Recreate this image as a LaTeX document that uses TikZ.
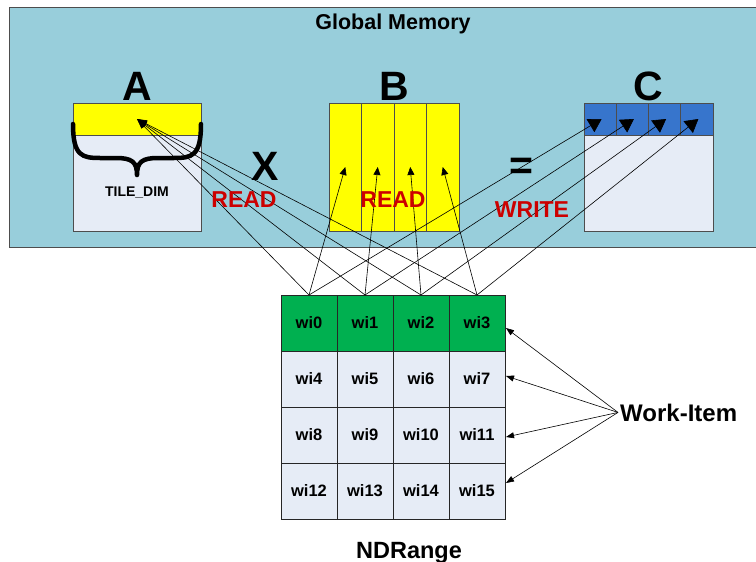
\documentclass[tikz,border=0pt]{standalone}
\usepackage{fontspec}
\setmainfont{Liberation Sans}
\usetikzlibrary{arrows.meta,calc}

\definecolor{memblue}{HTML}{98CEDB}
\definecolor{paleblue}{HTML}{E6ECF6}
\definecolor{tileyellow}{HTML}{FFFF00}
\definecolor{outblue}{HTML}{3775CC}
\definecolor{wigreen}{HTML}{00B050}
\definecolor{opred}{HTML}{CC0000}
\definecolor{edgegray}{HTML}{4D4D4D}

\begin{document}
\begin{tikzpicture}[x=1pt,y=-1pt,
  mat/.style={draw=edgegray, line width=1pt, inner sep=0pt, outer sep=0pt, anchor=north west},
  cell/.style={draw=black!85, line width=0.8pt, minimum width=56pt, minimum height=56pt,
    inner sep=0pt, outer sep=0pt, font=\bfseries\fontsize{16.5}{18}\selectfont},
  title/.style={font=\bfseries\fontsize{21.5}{24}\selectfont, inner sep=0pt, anchor=base},
  letter/.style={font=\bfseries\fontsize{41}{44}\selectfont, inner sep=0pt, anchor=base},
  access/.style={font=\bfseries\fontsize{23}{26}\selectfont, text=opred, inner sep=0pt, anchor=base},
  wire/.style={line width=0.6pt},
  toA/.style={wire, -{Triangle[length=10pt,width=7pt]}},
  toB/.style={wire, -{Triangle[length=8pt,width=7pt]}},
  toC/.style={wire, -{Triangle[length=13pt,width=15pt]}},
  pointer/.style={wire, -{Triangle[length=8pt,width=6pt]}}
]
\useasboundingbox (0,0) rectangle (756,562);

% global memory region
\node[mat, fill=memblue, minimum width=760pt, minimum height=240pt] (gm) at (9,7) {};
\node[title] (gmtext) at (393,30) {Global Memory};

% matrix A with its yellow row tile
\node[mat, fill=paleblue, minimum width=128pt, minimum height=128pt] (A) at (73,103) {};
\node[mat, fill=tileyellow, minimum width=128pt, minimum height=32pt] (Atop) at (73,103) {};
\node[letter] (Alabel) at (137,100) {A};

% brace under the row tile
\draw[line width=4.5pt, line cap=round, line join=round]
  (73,124) .. controls (73,156) and (82,158) .. (100,158) -- (116,158)
  .. controls (132,158) and (137,162) .. (137,175)
  .. controls (137,162) and (142,158) .. (158,158) -- (174,158)
  .. controls (192,158) and (201,156) .. (201,124);
\node[font=\bfseries\fontsize{14}{16}\selectfont, inner sep=0pt, anchor=base] (tile) at (137,196) {TILE\_DIM};

% matrix B split into columns
\foreach \k in {0,...,3}
  \node[mat, fill=tileyellow, minimum width=32.5pt, minimum height=128pt] (b\k) at (329+32.5*\k,103) {};
\node[letter] (Blabel) at (394,100) {B};

% matrix C with its blue output tiles
\node[mat, fill=paleblue, minimum width=129pt, minimum height=128pt] (C) at (584,103) {};
\foreach \k in {0,...,3}
  \node[mat, fill=outblue, minimum width=32.25pt, minimum height=32pt] (c\k) at (584+32.25*\k,103) {};
\node[letter] (Clabel) at (648,100) {C};

% operators
\node[letter] (times) at (265,180) {X};
\node[font=\bfseries\fontsize{41}{44}\selectfont, inner sep=0pt] (equals) at (521,169) {=};

% work-item grid
\foreach \c in {0,...,3}
  \node[cell, fill=wigreen] (w\c) at (309+56*\c,323) {wi\c};
\foreach \r in {1,2,3}
  \foreach \c in {0,...,3} {
    \pgfmathtruncatemacro\k{4*\r+\c}
    \node[cell, fill=paleblue] (w\k) at (309+56*\c,323+56*\r) {wi\k};
  }
\node[title, font=\bfseries\fontsize{23.5}{26}\selectfont] (ndr) at (409,558) {NDRange};

% reads and writes of each work-item in the first row
\foreach \k in {0,...,3} {
  \draw[toA] (w\k.north) -- (Atop.center);
  \draw[toB] (w\k.north) -- (b\k.center);
  \draw[toC] (w\k.north) -- ($(c\k.center)+(1.5,0)$);
}

\node[access] (readA) at (244,207) {READ};
\node[access] (readB) at (393,207) {READ};
\node[access] (writeC) at (532,217) {WRITE};

% work-item callout
\node[font=\bfseries\fontsize{24}{26}\selectfont, inner sep=2pt, anchor=base west] (wi) at (618,421) {Work-Item};
\draw[pointer] (wi.west) -- ($(w3.east)+(1,5)$);
\draw[pointer] (wi.west) -- ($(w7.east)+(1,-3)$);
\draw[pointer] (wi.west) -- ($(w11.east)+(1,2)$);
\draw[pointer] (wi.west) -- ($(w15.east)+(1,-8)$);
\end{tikzpicture}
\end{document}
